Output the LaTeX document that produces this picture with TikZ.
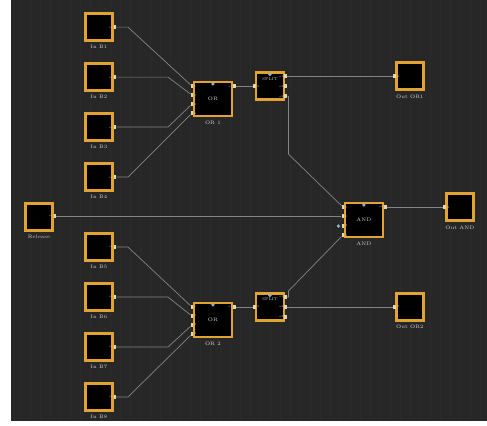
\documentclass[tikz,border=0pt]{standalone}
\usetikzlibrary{positioning}

\definecolor{bgdark}{HTML}{272727}
\definecolor{gridc}{HTML}{2B2B2B}
\definecolor{gold}{HTML}{E2A332}
\definecolor{wirec}{HTML}{858585}
\definecolor{portc}{HTML}{E6D7A6}
\definecolor{markc}{HTML}{8AB0D0}
\definecolor{labc}{HTML}{D2D2D2}

\begin{document}
\begin{tikzpicture}[x=1pt, y=-1pt,
  blk/.style    = {draw=gold, line width=2.4pt, fill=black, inner sep=0pt,
                   minimum width=27pt, minimum height=27pt},
  gate/.style   = {blk, minimum width=38pt, minimum height=34pt,
                   font=\fontsize{5}{5}\selectfont, text=labc},
  splt/.style   = {blk, minimum width=28pt, minimum height=27pt},
  lbl/.style    = {font=\fontsize{5}{5}\selectfont, text=labc, inner sep=0.5pt},
  port/.style   = {fill=portc, inner sep=0pt, minimum width=2.5pt, minimum height=3.5pt},
  plbl/.style   = {font=\fontsize{2.8}{3}\selectfont, text=labc, inner sep=0.6pt},
  mk/.style     = {fill=markc, inner sep=0pt, minimum size=2.6pt, rotate=45},
  wire/.style   = {draw=wirec, line width=0.7pt},
]

  % canvas: white margin left and bottom, dark editor area with a faint grid
  \fill[white] (0,0) rectangle (487,425);
  \fill[bgdark] (11,0) rectangle (487,421);
  \draw[gridc, line width=0.25pt, step=10] (11,0) grid (487,421);

  % input blocks, left column
  \node[blk] (b1) at (99,27) {};
  \node[blk] (b2) at (99,77) {};
  \node[blk] (b3) at (99,127) {};
  \node[blk] (b4) at (99,177) {};
  \node[blk] (rel) at (39,217) {};
  \node[blk] (b5) at (99,247) {};
  \node[blk] (b6) at (99,297) {};
  \node[blk] (b7) at (99,347) {};
  \node[blk] (b8) at (99,397) {};

  \node[lbl, below=3pt of b1] (b1l) {In B1};
  \node[lbl, below=3pt of b2] (b2l) {In B2};
  \node[lbl, below=3pt of b3] (b3l) {In B3};
  \node[lbl, below=3pt of b4] (b4l) {In B4};
  \node[lbl, below=3pt of rel] (rell) {Release};
  \node[lbl, below=3pt of b5] (b5l) {In B5};
  \node[lbl, below=3pt of b6] (b6l) {In B6};
  \node[lbl, below=3pt of b7] (b7l) {In B7};
  \node[lbl, below=3pt of b8] (b8l) {In B8};

  \node[port, label={[plbl]left:o1}] (b1o) at (115,27) {};
  \node[port, label={[plbl]left:o1}] (b2o) at (115,77) {};
  \node[port, label={[plbl]left:o1}] (b3o) at (115,127) {};
  \node[port, label={[plbl]left:o1}] (b4o) at (115,177) {};
  \node[port, label={[plbl]left:o1}] (relo) at (55,216) {};
  \node[port, label={[plbl]left:o1}] (b5o) at (115,247) {};
  \node[port, label={[plbl]left:o1}] (b6o) at (115,297) {};
  \node[port, label={[plbl]left:o1}] (b7o) at (115,347) {};
  \node[port, label={[plbl]left:o1}] (b8o) at (115,397) {};

  % OR gates
  \node[gate] (or1) at (213,99) {OR};
  \node[gate] (or2) at (213,320) {OR};
  \node[lbl, below=3pt of or1] (or1l) {OR 1};
  \node[lbl, below=3pt of or2] (or2l) {OR 2};
  \node[mk] (or1m) at ([yshift=-3pt]or1.north) {};
  \node[mk] (or2m) at ([yshift=-3pt]or2.north) {};

  \node[port, label={[plbl]right:1}] (or1a) at (192,86) {};
  \node[port, label={[plbl]right:2}] (or1b) at (192,95) {};
  \node[port, label={[plbl]right:3}] (or1c) at (192,104) {};
  \node[port, label={[plbl]right:4}] (or1d) at (192,113) {};
  \node[port, label={[plbl]left:o1}] (or1o) at (234.5,86) {};
  \node[port, label={[plbl]right:1}] (or2a) at (192,307) {};
  \node[port, label={[plbl]right:2}] (or2b) at (192,316) {};
  \node[port, label={[plbl]right:3}] (or2c) at (192,325) {};
  \node[port, label={[plbl]right:4}] (or2d) at (192,334) {};
  \node[port, label={[plbl]left:o1}] (or2o) at (234.5,307) {};

  % splitters
  \node[splt] (s1) at (270,86) {};
  \node[splt] (s2) at (270,307) {};
  \node[plbl, font=\fontsize{4}{4}\selectfont, below=5pt of s1.north] (s1t) {SPLIT};
  \node[plbl, font=\fontsize{4}{4}\selectfont, below=5pt of s2.north] (s2t) {SPLIT};
  \node[mk] (s1m) at ([yshift=-3pt]s1.north) {};
  \node[mk] (s2m) at ([yshift=-3pt]s2.north) {};

  \node[port, label={[plbl]right:i1}] (s1i) at (254.5,86) {};
  \node[port, label={[plbl]left:o1}] (s1a) at (285.5,76) {};
  \node[port, label={[plbl]left:o2}] (s1b) at (285.5,86) {};
  \node[port, label={[plbl]left:o3}] (s1c) at (285.5,96) {};
  \node[port, label={[plbl]right:i1}] (s2i) at (254.5,307) {};
  \node[port, label={[plbl]left:o1}] (s2a) at (285.5,297) {};
  \node[port, label={[plbl]left:o2}] (s2b) at (285.5,307) {};
  \node[port, label={[plbl]left:o3}] (s2c) at (285.5,317) {};

  % AND gate
  \node[gate] (and) at (364,220) {AND};
  \node[lbl, below=3pt of and] (andl) {AND};
  \node[mk] (andm) at ([yshift=-3pt]and.north) {};
  \node[port, label={[plbl]right:1}] (anda) at (343,207) {};
  \node[port, label={[plbl]right:2}] (andb) at (343,216) {};
  \node[port, label={[plbl]right:3}] (andc) at (343,226) {};
  \node[port, label={[plbl]right:4}] (andd) at (343,235) {};
  \node[mk] (andx) at ([xshift=-3pt]andc.west) {};
  \node[port, label={[plbl]left:o1}] (ando) at (385.5,207) {};

  % output blocks
  \node[blk] (oo1) at (410,76) {};
  \node[blk] (oo2) at (410,307) {};
  \node[blk] (oand) at (460,207) {};
  \node[lbl, below=3pt of oo1] (oo1l) {Out OR1};
  \node[lbl, below=3pt of oo2] (oo2l) {Out OR2};
  \node[lbl, below=3pt of oand] (oandl) {Out AND};
  \node[port, label={[plbl]right:i1}] (oo1i) at (394.5,76) {};
  \node[port, label={[plbl]right:i1}] (oo2i) at (394.5,307) {};
  \node[port, label={[plbl]right:i1}] (oandi) at (444.5,207) {};

  % wires into OR 1
  \draw[wire] (b1o) -- ++(13,0) -- (or1a);
  \draw[wire] (b2o) -- ++(53,0) -- (or1b);
  \draw[wire] (b3o) -- ++(53,0) -- (or1c);
  \draw[wire] (b4o) -- ++(13,0) -- (or1d);
  % wires into OR 2
  \draw[wire] (b5o) -- ++(13,0) -- (or2a);
  \draw[wire] (b6o) -- ++(53,0) -- (or2b);
  \draw[wire] (b7o) -- ++(53,0) -- (or2c);
  \draw[wire] (b8o) -- ++(13,0) -- (or2d);

  \draw[wire] (or1o) -- (s1i);
  \draw[wire] (or2o) -- (s2i);
  \draw[wire] (s1a) -- (oo1i);
  \draw[wire] (s2b) -- (oo2i);
  \draw[wire] (s1c) -- ++(3,0) -- ++(0,58) -- (anda);
  \draw[wire] (relo) -- (andb);
  \draw[wire] (s2a) -- ++(3,0) -- ++(0,-6) -- (andd);
  \draw[wire] (ando) -- (oandi);

\end{tikzpicture}
\end{document}
